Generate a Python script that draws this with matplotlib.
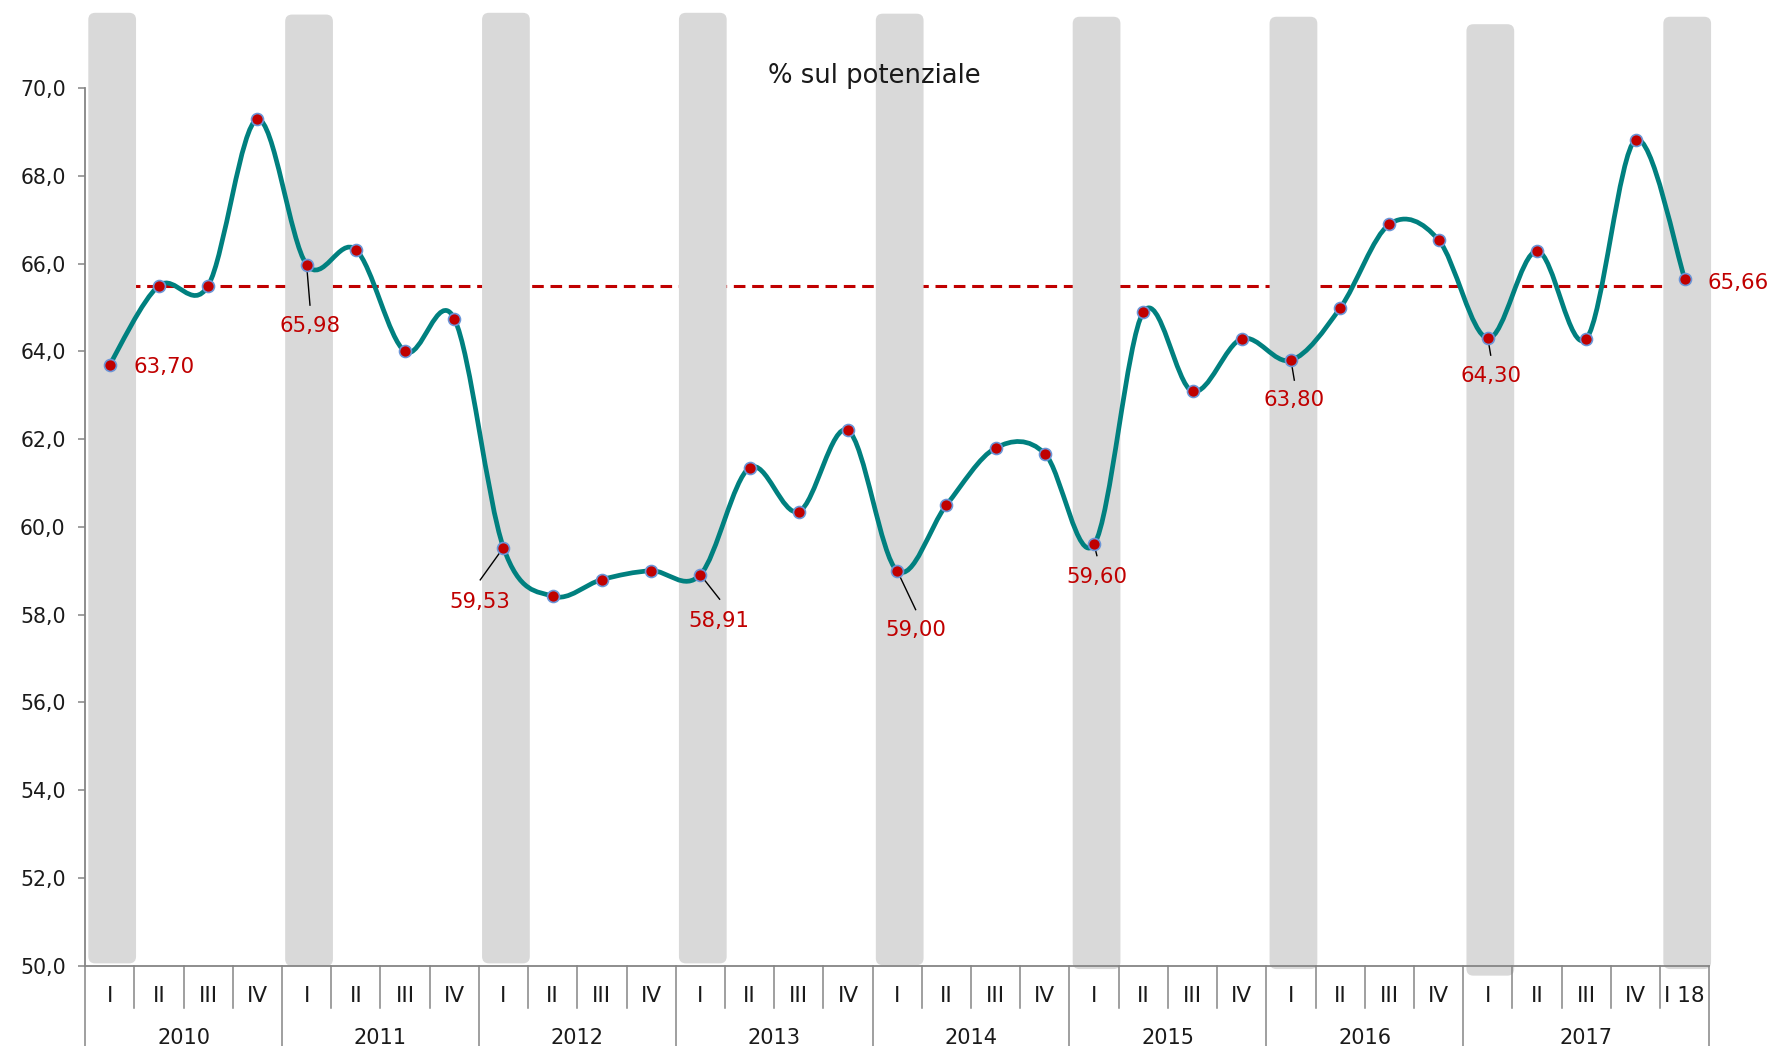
import matplotlib
matplotlib.use("Agg")
import matplotlib.pyplot as plt
import matplotlib.transforms as mtrans
from matplotlib.path import Path
from matplotlib.patches import PathPatch, FancyBboxPatch

# ---------------- data ----------------
years = ['2010', '2011', '2012', '2013', '2014', '2015', '2016', '2017']
quarters = ['I', 'II', 'III', 'IV'] * 8 + ['I 18']
values = [63.70, 65.50, 65.50, 69.29,
          65.98, 66.32, 64.00, 64.75,
          59.53, 58.42, 58.80, 59.00,
          58.91, 61.35, 60.35, 62.20,
          59.00, 60.50, 61.80, 61.67,
          59.60, 64.90, 63.09, 64.29,
          63.80, 64.99, 66.90, 66.54,
          64.30, 66.29, 64.29, 68.82,
          65.66]
media = 65.5
band_pos = [0, 4, 8, 12, 16, 20, 24, 28, 32]
band_top = [71.72, 71.68, 71.72, 71.72, 71.70, 71.63, 71.63, 71.46, 71.63]
band_bottom = [50.05, 49.99, 50.05, 50.05, 50.01, 49.92, 49.92, 49.77, 49.92]
year_first = [0, 4, 8, 12, 16, 20, 24, 28]
year_last = [3, 7, 11, 15, 19, 23, 27, 32]
label_idx = [0, 4, 8, 12, 16, 20, 24, 28, 32]
yticks = [50, 52, 54, 56, 58, 60, 62, 64, 66, 68, 70]

# label placement (text centre offset, leader end offset) in data units
label_text_off = {0: (1.10, -0.03), 4: (0.07, -1.36), 8: (-0.48, -1.20),
                  12: (0.37, -1.02), 16: (0.37, -1.31), 20: (0.06, -0.71),
                  24: (0.07, -0.88), 28: (0.06, -0.83), 32: (1.09, -0.07)}
label_leader_off = {4: (0.07, -0.94), 8: (-0.48, -0.75), 12: (0.40, -0.57),
                    16: (0.38, -0.90), 20: (0.06, -0.27), 24: (0.07, -0.47),
                    28: (0.06, -0.40)}

TEAL = '#00807F'
RED = '#C00000'
GREY = '#D9D9D9'
AX = '#858585'
TXT = '#1a1a1a'

plt.rcParams['font.family'] = ['DejaVu Sans']

fig = plt.figure(figsize=(17.73, 10.46), dpi=100)
ax = fig.add_axes([0.048, 0.0769, 0.9161, 0.9226])
n = len(values)
xs = list(range(n))
ax.set_xlim(-0.5, n - 0.5)
ax.set_ylim(50, 72)

# average dashed line (behind bands)
ax.hlines(media, 0, n - 1, colors=RED, linewidth=2.2,
          linestyles=(0, (3.8, 2.2)), zorder=1)

# grey bands at first quarters
bars = ax.bar([p + 0.05 for p in band_pos],
              [t - b for t, b in zip(band_top, band_bottom)],
              bottom=band_bottom, width=0.97, color=GREY, linewidth=0)
for r in bars:
    x0, y0 = r.get_xy()
    w, h = r.get_width(), r.get_height()
    r.set_visible(False)
    fb = FancyBboxPatch((x0, y0), w, h,
                        boxstyle="round,pad=0,rounding_size=0.14",
                        mutation_aspect=1.12, facecolor=GREY,
                        edgecolor='none', zorder=2, clip_on=False)
    ax.add_patch(fb)

# smoothed line (Bezier through the data points)
pts = list(zip(xs, values))
verts = [pts[0]]
codes = [Path.MOVETO]
for i in range(n - 1):
    p0 = pts[i - 1] if i > 0 else pts[i]
    p1 = pts[i]
    p2 = pts[i + 1]
    p3 = pts[i + 2] if i + 2 < n else pts[i + 1]
    c1 = (p1[0] + (p2[0] - p0[0]) / 6.0, p1[1] + (p2[1] - p0[1]) / 6.0)
    c2 = (p2[0] - (p3[0] - p1[0]) / 6.0, p2[1] - (p3[1] - p1[1]) / 6.0)
    verts += [c1, c2, p2]
    codes += [Path.CURVE4] * 3
ax.add_patch(PathPatch(Path(verts, codes), facecolor='none', edgecolor=TEAL,
                       linewidth=3.4, capstyle='round', joinstyle='round',
                       zorder=3))
ax.plot(xs, values, linestyle='none', marker='o', markersize=8.6,
        markerfacecolor=RED, markeredgecolor='#6A95D8',
        markeredgewidth=1.2, zorder=4)

# labels
for i in label_idx:
    v = values[i]
    dx, dy = label_text_off[i]
    if i in label_leader_off:
        lx, ly = label_leader_off[i]
        ax.plot([i, i + lx], [v, v + ly], color='black', linewidth=1.0,
                zorder=3.5, solid_capstyle='butt')
    ax.text(i + dx, v + dy - 0.17, f"{v:.2f}".replace('.', ','),
            color=RED, fontsize=15.3, ha='center', va='baseline',
            zorder=5, clip_on=False)

# title
ax.text(15.53, 70.11, '% sul potenziale', fontsize=18.6, color=TXT,
        ha='center', va='baseline', zorder=5)

# y axis
ax.set_yticks(yticks)
ax.set_yticklabels([f"{t:.1f}".replace('.', ',') for t in yticks])
ax.tick_params(axis='y', length=5, width=1.1, color=AX, pad=9,
               labelsize=14.8, labelcolor=TXT)
ax.spines['left'].set_bounds(50, 70)
for s in ['left', 'bottom']:
    ax.spines[s].set_color(AX)
    ax.spines[s].set_linewidth(1.3)
ax.spines['bottom'].set_zorder(2.6)
ax.spines['top'].set_visible(False)
ax.spines['right'].set_visible(False)

# x axis: custom category labels and separators
ax.set_xticks([])
xtr = ax.get_xaxis_transform()
long_bounds = set([f for f in year_first] + [n])
for k in range(n + 1):
    xb = k - 0.5
    depth = 0.095 if k in long_bounds else 0.0435
    ax.plot([xb, xb], [0, -depth], transform=xtr, color=AX,
            linewidth=1.1, clip_on=False, zorder=2.6)

qtr = mtrans.offset_copy(xtr, fig=fig, y=-36.3, units='dots')
for i, q in enumerate(quarters):
    ax.text(i, 0, q, transform=qtr, ha='center', va='baseline',
            fontsize=15.5, color=TXT, clip_on=False)

ytr = mtrans.offset_copy(xtr, fig=fig, y=-78.3, units='dots')
for yname, a, b in zip(years, year_first, year_last):
    ax.text((a + b) / 2.0, 0, yname, transform=ytr, ha='center',
            va='baseline', fontsize=15, color=TXT, clip_on=False)

fig.savefig('out.png', dpi=100)
